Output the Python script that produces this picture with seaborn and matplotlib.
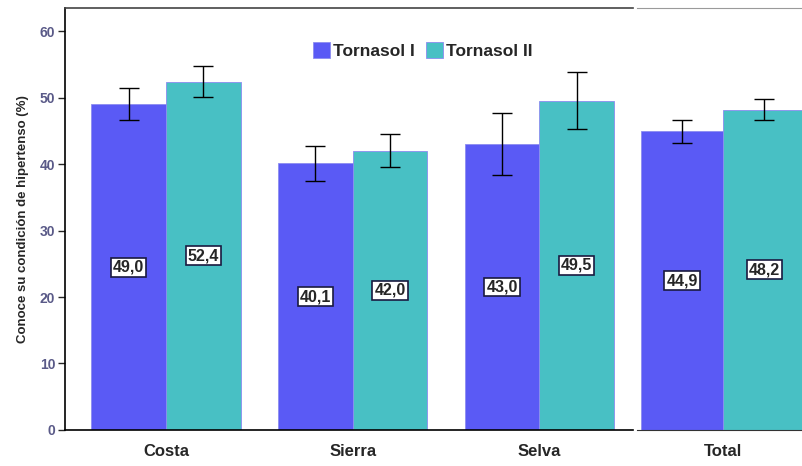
import matplotlib
matplotlib.use('Agg')
import matplotlib.pyplot as plt
import pandas as pd
import seaborn as sns

regiones = ['Costa', 'Sierra', 'Selva']
grupos = ['Tornasol I', 'Tornasol II']
valores_I = [49.0, 40.1, 43.0]
valores_II = [52.4, 42.0, 49.5]
error_I = [2.4, 2.6, 4.7]
error_II = [2.3, 2.5, 4.3]
total_I, total_II = 44.9, 48.2
total_err_I, total_err_II = 1.7, 1.6

colores = ['#5A5AF5', '#48C0C4']

sns.set_style('white')
plt.rcParams['font.family'] = ['Liberation Sans', 'DejaVu Sans']
plt.rcParams['font.weight'] = 'bold'

df = pd.DataFrame({
    'region': regiones * 2,
    'grupo': [grupos[0]] * 3 + [grupos[1]] * 3,
    'valor': valores_I + valores_II,
    'err': error_I + error_II,
})
df_total = pd.DataFrame({
    'region': ['Total', 'Total'],
    'grupo': grupos,
    'valor': [total_I, total_II],
    'err': [total_err_I, total_err_II],
})

fig = plt.figure(figsize=(8.03, 4.66), dpi=100)
ax1 = fig.add_axes([0.081, 0.0773, 0.707, 0.906])
ax2 = fig.add_axes([0.793, 0.0773, 0.215, 0.906])


def dibujar(ax, data):
    sns.barplot(data=data, x='region', y='valor', hue='grupo', hue_order=grupos,
                palette=colores, errorbar=None, width=0.8, saturation=1,
                edgecolor='#8c8cf0', linewidth=0.6, ax=ax)
    for cont, g in zip(ax.containers, grupos):
        sub = data[data['grupo'] == g]
        for bar, (_, row) in zip(cont, sub.iterrows()):
            cx = bar.get_x() + bar.get_width() / 2
            ax.errorbar(cx, row['valor'], yerr=row['err'], color='black',
                        capsize=7, elinewidth=1, capthick=1, zorder=5)
            ax.text(cx, row['valor'] / 2, f"{row['valor']:.1f}".replace('.', ','),
                    ha='center', va='center', fontsize=11.5, fontweight='bold',
                    bbox=dict(boxstyle='square,pad=0.12', fc='white',
                              ec='#1a1a40', lw=1.2), zorder=6)


dibujar(ax1, df)
dibujar(ax2, df_total)

for ax in (ax1, ax2):
    ax.set_ylim(0, 63.5)
    ax.set_xlabel('')
    ax.tick_params(axis='x', length=5, width=1, labelsize=12, pad=5)
    for lab in ax.get_xticklabels():
        lab.set_fontweight('bold')

ax1.set_xlim(-0.54, 2.5)
ax2.set_xlim(-0.42, 0.42)

ax1.set_yticks(range(0, 61, 10))
ax1.tick_params(axis='y', length=5, width=1, labelsize=10, labelcolor='#5a5a88',
                left=True, pad=2)
for lab in ax1.get_yticklabels():
    lab.set_fontweight('bold')
ax1.set_ylabel('Conoce su condición de hipertenso (%)', fontsize=9.5, fontweight='bold',
               labelpad=8)

ax1.spines['right'].set_visible(False)
ax1.spines['top'].set_color('#444444')
for s in ['left', 'bottom', 'top']:
    ax1.spines[s].set_linewidth(1.2)
ax1.spines['left'].set_color('black')
ax1.spines['bottom'].set_color('black')

ax2.set_yticks([])
ax2.set_ylabel('')
ax2.spines['left'].set_visible(False)
ax2.spines['right'].set_visible(False)
ax2.spines['top'].set_color('#9a9a9a')
ax2.spines['bottom'].set_color('#333333')
ax2.get_legend().remove()

handles, labels = ax1.get_legend_handles_labels()
ax1.legend(handles, labels, loc='upper center', bbox_to_anchor=(0.63, 0.955),
           ncol=2, frameon=False, handlelength=1.0, handleheight=1.0,
           handletextpad=0.2, columnspacing=0.6,
           prop={'weight': 'bold', 'size': 12.5})

fig.savefig('out.png', dpi=100)
